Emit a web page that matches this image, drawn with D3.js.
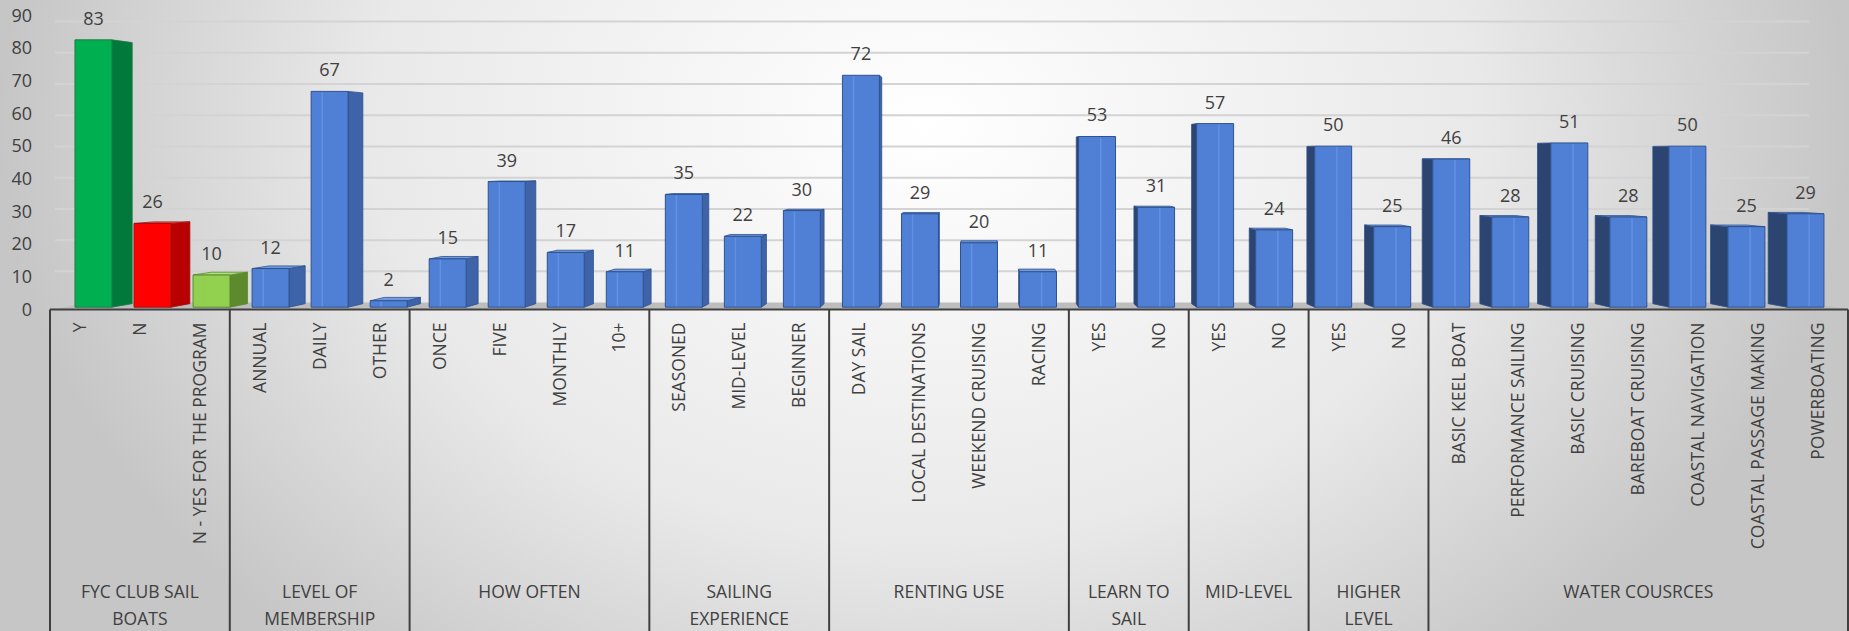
<!DOCTYPE html>
<html>
<head>
<meta charset="utf-8">
<title>Sailing survey</title>
<script src="https://d3js.org/d3.v7.min.js"></script>
<style>
  body { margin: 0; overflow: hidden; background: #fff; }
  text { font-family: "Open Sans", sans-serif; fill: #404040; }
</style>
</head>
<body>
<script>
  var categories = ["Y", "N", "N - YES FOR THE PROGRAM",
    "ANNUAL", "DAILY", "OTHER",
    "ONCE", "FIVE", "MONTHLY", "10+",
    "SEASONED", "MID-LEVEL", "BEGINNER",
    "DAY SAIL", "LOCAL DESTINATIONS", "WEEKEND CRUISING", "RACING",
    "YES", "NO", "YES", "NO", "YES", "NO",
    "BASIC KEEL BOAT", "PERFORMANCE SAILING", "BASIC CRUISING", "BAREBOAT CRUISING",
    "COASTAL NAVIGATION", "COASTAL PASSAGE MAKING", "POWERBOATING"];
  var values = [83, 26, 10, 12, 67, 2, 15, 39, 17, 11, 35, 22, 30, 72, 29, 20, 11,
    53, 31, 57, 24, 50, 25, 46, 28, 51, 28, 50, 25, 29];
  var groupNames = ["FYC CLUB SAIL BOATS", "LEVEL OF MEMBERSHIP", "HOW OFTEN",
    "SAILING EXPERIENCE", "RENTING USE", "LEARN TO SAIL", "MID-LEVEL",
    "HIGHER LEVEL", "WATER COUSRCES"];
  var groupSizes = [3, 3, 4, 3, 4, 2, 2, 2, 7];
  var yTicks = [0, 10, 20, 30, 40, 50, 60, 70, 80, 90];

  var width = 1849, height = 631;
  var left = 50, right = 1848, baseY = 309.5;

  var x = d3.scaleBand().domain(d3.range(categories.length)).range([left, right]);
  var y = d3.scaleLinear().domain([0, 90]).range([baseY, 15.2]);

  // simple perspective: everything shrinks toward a vanishing point
  var vx = 980, vy = 156;
  var kFront = 0.985, kBack = 0.962, kWall = 0.955;
  function proj(px, py, k) { return [vx + k * (px - vx), vy + k * (py - vy)]; }
  function poly(pts) { return "M" + pts.map(function(p) { return p[0] + "," + p[1]; }).join("L") + "Z"; }

  var blue = { front: "#4f80d6", stripe: "#6191e3", sideR: "#3e63a9", sideL: "#2b4470", top: "#7099de", edge: "#2f528f" };
  var special = {
    0: { front: "#00b050", stripe: "#00b050", sideR: "#007a3a", sideL: "#007a3a", top: "#35c872", edge: "#1e7a45" },
    1: { front: "#ff0000", stripe: "#ff0000", sideR: "#b80000", sideL: "#b80000", top: "#ff4a4a", edge: "#a01010" },
    2: { front: "#92d050", stripe: "#92d050", sideR: "#5c8a2c", sideL: "#5c8a2c", top: "#b0e07a", edge: "#5a8a32" }
  };

  var svg = d3.select("body").append("svg")
    .attr("width", width)
    .attr("height", height);

  var grad = svg.append("defs").append("radialGradient")
    .attr("id", "bg").attr("cx", 0.5).attr("cy", 0.2).attr("r", 0.5)
    .attr("gradientTransform", "translate(0.5,0.2) scale(1,2.2) translate(-0.5,-0.2)");
  grad.append("stop").attr("offset", "0%").attr("stop-color", "#ffffff");
  grad.append("stop").attr("offset", "60%").attr("stop-color", "#e9e9e9");
  grad.append("stop").attr("offset", "100%").attr("stop-color", "#c6c6c6");

  svg.append("rect").attr("width", width).attr("height", height).attr("fill", "url(#bg)");

  // floor
  svg.append("path")
    .attr("d", poly([[left, baseY], [right, baseY], proj(right, baseY, kWall), proj(left, baseY, kWall)]))
    .attr("fill", "#bdbdbd");

  // gridlines on the back wall
  svg.append("g").selectAll("line")
    .data(yTicks.slice(1))
    .enter().append("line")
    .attr("x1", left + 5)
    .attr("x2", proj(right, 0, kWall)[0])
    .attr("y1", function(d) { return proj(0, y(d), kWall)[1]; })
    .attr("y2", function(d) { return proj(0, y(d), kWall)[1]; })
    .attr("stroke", "#d3d3d3")
    .attr("stroke-width", 2);

  // y labels
  svg.append("g").selectAll("text")
    .data(yTicks)
    .enter().append("text")
    .attr("x", 32)
    .attr("y", function(d) { return y(d); })
    .attr("dy", "0.35em")
    .attr("text-anchor", "end")
    .style("font-size", "18px")
    .text(function(d) { return d; });

  // bars
  var half = x.bandwidth() * 0.313;
  var bars = svg.append("g").selectAll("g")
    .data(values)
    .enter().append("g");

  bars.each(function(v, i) {
    var g = d3.select(this);
    var c = special[i] || blue;
    var cx = x(i) + x.bandwidth() / 2;
    var x0 = cx - half, x1 = cx + half;
    var y0 = y(0), yt = y(v);
    var sx = cx < vx ? x1 : x0;
    g.append("path")
      .attr("d", poly([proj(sx, y0, kFront), proj(sx, y0, kBack), proj(sx, yt, kBack), proj(sx, yt, kFront)]))
      .attr("fill", cx < vx ? c.sideR : c.sideL)
      .attr("stroke", c.edge).attr("stroke-width", 0.8);
    if (proj(0, yt, kFront)[1] > vy) {
      g.append("path")
        .attr("d", poly([proj(x0, yt, kFront), proj(x1, yt, kFront), proj(x1, yt, kBack), proj(x0, yt, kBack)]))
        .attr("fill", c.top)
        .attr("stroke", c.edge).attr("stroke-width", 0.8);
    }
    g.append("path")
      .attr("d", poly([proj(x0, y0, kFront), proj(x1, y0, kFront), proj(x1, yt, kFront), proj(x0, yt, kFront)]))
      .attr("fill", c.front)
      .attr("stroke", c.edge).attr("stroke-width", 1);
    var st = cx < vx ? x0 + (x1 - x0) * 0.3 : x0 + (x1 - x0) * 0.6;
    g.append("line")
      .attr("x1", proj(st, 0, kFront)[0]).attr("x2", proj(st, 0, kFront)[0])
      .attr("y1", proj(0, yt, kFront)[1] + 1).attr("y2", proj(0, y0, kFront)[1] - 1)
      .attr("stroke", c.stripe).attr("stroke-width", 1.5);
    g.append("text")
      .attr("x", proj(cx, 0, kFront)[0])
      .attr("y", proj(0, yt, kFront)[1] - 15)
      .attr("text-anchor", "middle")
      .style("font-size", "18px")
      .text(v);
  });

  // category axis
  var ends = d3.cumsum(groupSizes);
  var starts = [0].concat(Array.from(ends).slice(0, -1));
  var axis = svg.append("g");
  axis.append("line")
    .attr("x1", left).attr("x2", right)
    .attr("y1", baseY).attr("y2", baseY)
    .attr("stroke", "#404040").attr("stroke-width", 2);
  axis.selectAll("line.sep")
    .data([0].concat(Array.from(ends)))
    .enter().append("line")
    .attr("class", "sep")
    .attr("x1", function(d) { return d < categories.length ? x(d) : right; })
    .attr("x2", function(d) { return d < categories.length ? x(d) : right; })
    .attr("y1", baseY).attr("y2", height)
    .attr("stroke", "#404040").attr("stroke-width", 2);

  axis.selectAll("text.cat")
    .data(categories)
    .enter().append("text")
    .attr("class", "cat")
    .attr("transform", function(d, i) {
      return "translate(" + (x(i) + x.bandwidth() / 2) + "," + (baseY + 13) + ") rotate(-90)";
    })
    .attr("dy", "0.35em")
    .attr("text-anchor", "end")
    .style("font-size", "17.5px")
    .text(function(d) { return d; });

  axis.selectAll("text.grp")
    .data(groupNames)
    .enter().append("text")
    .attr("class", "grp")
    .attr("x", function(d, i) { return (x(starts[i]) + (ends[i] < categories.length ? x(ends[i]) : right)) / 2; })
    .attr("y", 598)
    .attr("text-anchor", "middle")
    .style("font-size", "17.5px")
    .each(function(d, i) {
      var el = d3.select(this);
      var maxW = groupSizes[i] * x.bandwidth() * 0.8;
      var words = d.split(" "), line = [], lines = [];
      var probe = el.append("tspan");
      words.forEach(function(w) {
        line.push(w);
        probe.text(line.join(" "));
        if (probe.node().getComputedTextLength() > maxW && line.length > 1) {
          line.pop();
          lines.push(line.join(" "));
          line = [w];
        }
      });
      lines.push(line.join(" "));
      probe.remove();
      var cxg = el.attr("x");
      lines.forEach(function(t, j) {
        el.append("tspan").attr("x", cxg).attr("dy", j ? 27 : 0).text(t);
      });
    });
</script>
</body>
</html>
